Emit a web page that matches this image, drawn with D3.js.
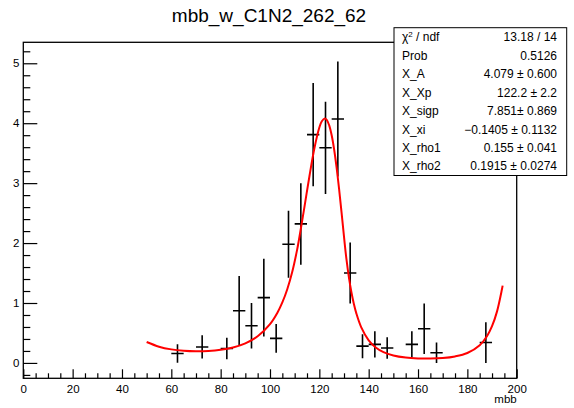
<!DOCTYPE html>
<html>
<head>
<meta charset="utf-8">
<script src="https://cdn.jsdelivr.net/npm/d3@7"></script>
<style>
  html, body { margin: 0; padding: 0; background: #fff; }
  svg { display: block; font-family: "Liberation Sans", Arial, Helvetica, sans-serif; }
</style>
</head>
<body>
<svg id="chart" width="574" height="408"></svg>
<script>
// ---- data ----
const binCenters = [62.5, 72.5, 82.5, 87.5, 92.5, 97.5, 102.5, 107.5, 112.5, 117.5, 122.5, 127.5, 132.5, 137.5, 142.5, 147.5, 157.5, 162.5, 167.5, 187.5];
const binValues  = [0.157, 0.267, 0.24, 0.87, 0.62, 1.09, 0.41, 1.98, 2.32, 3.81, 3.59, 4.07, 1.50, 0.28, 0.31, 0.25, 0.31, 0.57, 0.17, 0.34];
const binErrors  = [0.153, 0.195, 0.18, 0.58, 0.38, 0.65, 0.24, 0.56, 0.68, 0.86, 0.77, 0.96, 0.51, 0.20, 0.22, 0.18, 0.22, 0.42, 0.17, 0.34];
const binHalfWidth = 2.5;

// fitted curve samples (x, y)
const fitX = [50, 55, 60, 65, 70, 75, 80, 85, 90, 95, 100, 103, 105, 107, 109, 111, 111.67, 112, 114, 116, 118, 120, 121, 122.2, 123, 124, 125, 126, 127, 128, 129, 130.16, 131, 132, 133, 134, 135, 137, 140, 143, 146, 150, 155, 160, 165, 170, 175, 180, 185, 188, 190, 192, 194, 194.3];
const fitY = [0.349, 0.271, 0.226, 0.202, 0.193, 0.198, 0.218, 0.258, 0.327, 0.444, 0.646, 0.837, 1.009, 1.230, 1.516, 1.890, 2.040, 2.118, 2.613, 3.119, 3.582, 3.928, 4.032, 4.079, 4.057, 3.964, 3.798, 3.561, 3.259, 2.904, 2.513, 2.040, 1.726, 1.423, 1.180, 0.985, 0.827, 0.594, 0.378, 0.254, 0.180, 0.124, 0.089, 0.075, 0.073, 0.082, 0.109, 0.166, 0.296, 0.450, 0.613, 0.856, 1.225, 1.290];

const titleText = "mbb_w_C1N2_262_62";
const xLabel = "mbb";
const xMajorTicks = [0, 20, 40, 60, 80, 100, 120, 140, 160, 180, 200];
const yMajorTicks = [0, 1, 2, 3, 4, 5];

const statNames  = ["χ2 / ndf", "Prob", "X_A", "X_Xp", "X_sigp", "X_xi", "X_rho1", "X_rho2"];
const statValues = ["13.18 / 14", "0.5126", "4.079 ± 0.600", "122.2 ± 2.2", "7.851± 0.869", "\u22120.1405 ± 0.1132", "0.155 ± 0.041", "0.1915 ± 0.0274"];

// ---- layout ----
const frame = { left: 23.3, right: 516.7, top: 42.3, bottom: 378.3 };
const xDomain = [0, 200];
const yDomain = [-0.2565, 5.35];

const svg = d3.select("#chart");

const x = d3.scaleLinear().domain(xDomain).range([frame.left, frame.right]);
const y = d3.scaleLinear().domain(yDomain).range([frame.bottom, frame.top]);

// title
svg.append("text")
  .attr("x", 269).attr("y", 22)
  .attr("text-anchor", "middle")
  .attr("font-size", "19px")
  .attr("fill", "#000")
  .text(titleText);

// clip for plot content
svg.append("defs").append("clipPath").attr("id", "plotclip")
  .append("rect")
  .attr("x", frame.left).attr("y", frame.top)
  .attr("width", frame.right - frame.left).attr("height", frame.bottom - frame.top);

// axes: minor ticks
const xMinor = d3.range(0, 200.001, 5).filter(v => v % 20 !== 0);
const yMinor = d3.range(-0.2, 5.3001, 0.2).map(v => Math.round(v * 10) / 10).filter(v => Math.abs(v - Math.round(v)) > 1e-6);

const gx = svg.append("g").attr("transform", `translate(0,${frame.bottom})`);
gx.call(d3.axisBottom(x).tickValues(xMinor).tickSize(-5).tickFormat(""));
gx.append("g").call(d3.axisBottom(x).tickValues(xMajorTicks).tickSize(-9).tickPadding(7).tickFormat(d3.format("d")));
gx.selectAll(".domain").remove();
gx.selectAll("line").attr("stroke", "#000").attr("stroke-width", 1.2);
gx.selectAll("text").attr("font-size", "11.5px").attr("fill", "#000")
  .attr("font-family", "Liberation Sans, Arial, sans-serif");

const gy = svg.append("g").attr("transform", `translate(${frame.left},0)`);
gy.call(d3.axisLeft(y).tickValues(yMinor).tickSize(-7).tickFormat(""));
gy.append("g").call(d3.axisLeft(y).tickValues(yMajorTicks).tickSize(-14).tickPadding(4).tickFormat(d3.format("d")));
gy.selectAll(".domain").remove();
gy.selectAll("line").attr("stroke", "#000").attr("stroke-width", 1.2);
gy.selectAll("text").attr("font-size", "11.5px").attr("fill", "#000")
  .attr("font-family", "Liberation Sans, Arial, sans-serif");

// x axis title
svg.append("text")
  .attr("x", frame.right).attr("y", 403)
  .attr("text-anchor", "end")
  .attr("font-size", "11.5px")
  .attr("fill", "#000")
  .text(xLabel);

// data points with error bars
const pts = svg.append("g").attr("clip-path", "url(#plotclip)");
binCenters.forEach((c, i) => {
  const v = binValues[i], e = binErrors[i];
  pts.append("line")
    .attr("x1", x(c)).attr("x2", x(c))
    .attr("y1", y(v - e)).attr("y2", y(v + e))
    .attr("stroke", "#000").attr("stroke-width", 1.6);
  pts.append("line")
    .attr("x1", x(c - binHalfWidth)).attr("x2", x(c + binHalfWidth))
    .attr("y1", y(v)).attr("y2", y(v))
    .attr("stroke", "#000").attr("stroke-width", 1.6);
});

// fit curve
const fitData = fitX.map((v, i) => [v, fitY[i]]);
pts.append("path")
  .datum(fitData)
  .attr("d", d3.line().x(d => x(d[0])).y(d => y(d[1])).curve(d3.curveCatmullRom.alpha(0.5)))
  .attr("fill", "none")
  .attr("stroke", "#ff0000")
  .attr("stroke-width", 2);

// frame
svg.append("rect")
  .attr("x", frame.left).attr("y", frame.top)
  .attr("width", frame.right - frame.left).attr("height", frame.bottom - frame.top)
  .attr("fill", "none").attr("stroke", "#000").attr("stroke-width", 1.3);

// stats box
const box = { left: 394, right: 566.7, top: 27.7, bottom: 175.5 };
svg.append("rect")
  .attr("x", box.left).attr("y", box.top)
  .attr("width", box.right - box.left).attr("height", box.bottom - box.top)
  .attr("fill", "#fff").attr("stroke", "#000").attr("stroke-width", 1);

const rowH = (box.bottom - box.top) / statNames.length;
const gs = svg.append("g").attr("font-size", "12px").attr("fill", "#000");
statNames.forEach((n, i) => {
  const by = box.top + rowH * (i + 0.5) + 4.2;
  const t = gs.append("text").attr("x", 402).attr("y", by);
  if (n.startsWith("χ2")) {
    t.append("tspan").text("χ");
    t.append("tspan").attr("font-size", "8px").attr("dy", -4.5).text("2");
    t.append("tspan").attr("dy", 4.5).text(" / ndf");
  } else {
    t.text(n);
  }
  gs.append("text").attr("x", 557).attr("y", by).attr("text-anchor", "end").text(statValues[i]);
});
</script>
</body>
</html>
